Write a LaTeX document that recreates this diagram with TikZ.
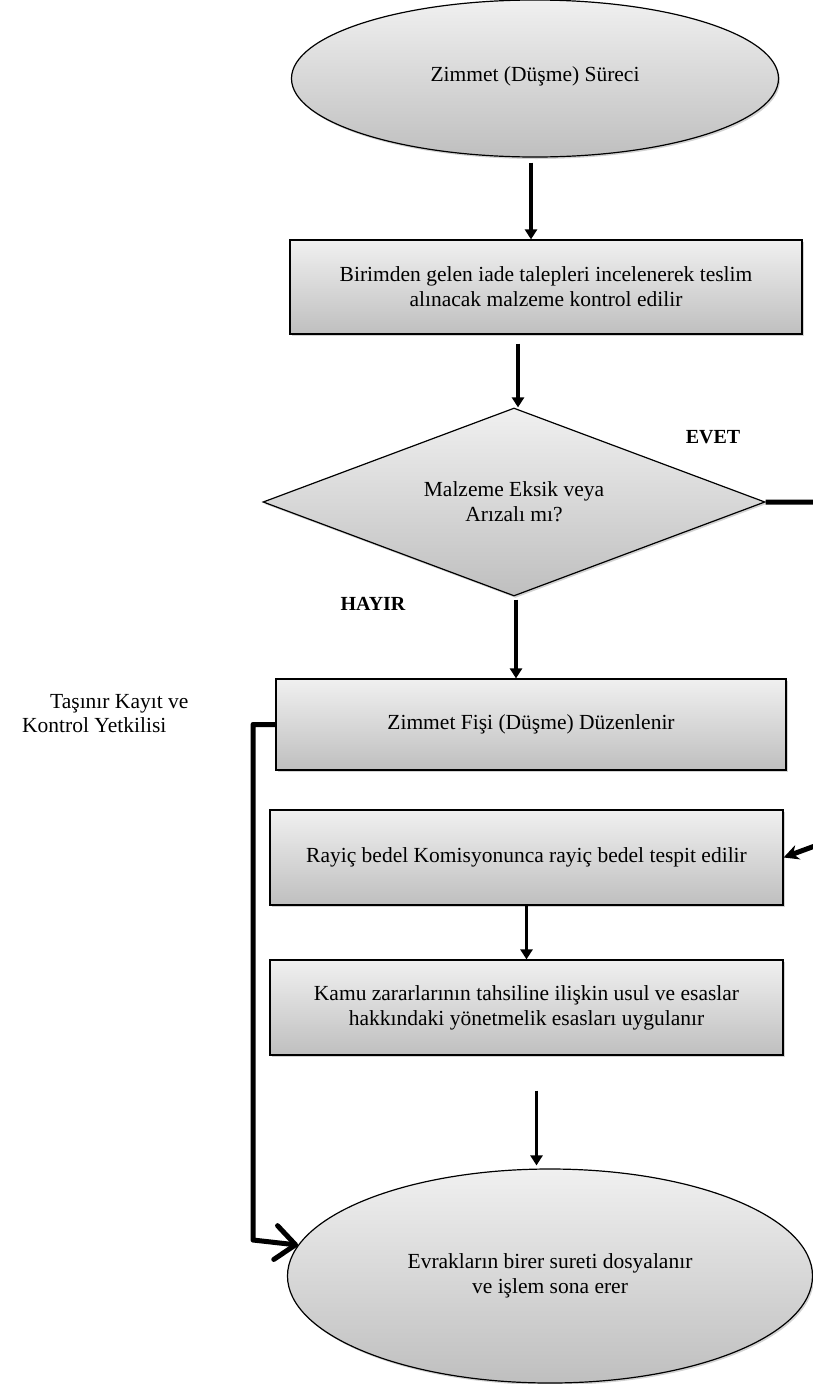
\documentclass[tikz,border=0pt]{standalone}
\usepackage{fontspec}
\setmainfont{Liberation Serif}
\usetikzlibrary{shapes.geometric,arrows.meta,shadows,calc}
\definecolor{fillTop}{HTML}{F0F0F0}
\definecolor{fillBot}{HTML}{BFBFBF}
\begin{document}
\begin{tikzpicture}[x=1pt,y=-1pt,
  every node/.style={font=\fontsize{21.5}{25}\selectfont},
  base/.style={draw=black, line width=1.2pt, top color=fillTop, bottom color=fillBot,
    drop shadow={shadow xshift=1.5pt, shadow yshift=-2pt, opacity=0.35},
    align=center, inner sep=0pt},
  box/.style={base, rectangle},
  oval/.style={base, ellipse},
  dia/.style={base, diamond, aspect=2.68},
  arr/.style={-{Triangle[length=10pt,width=12pt]}, line width=3.2pt},
  heavy/.style={line width=5pt},
  lbl/.style={font=\bfseries\fontsize{20}{24}\selectfont},
  side/.style={anchor=base west, inner sep=0pt}
]
\useasboundingbox (0,0) rectangle (813,1384);
\clip (0,0) rectangle (813,1384);

\node[oval, minimum width=487pt, minimum height=157pt] (start) at (535,78.5)
  {\raisebox{8pt}{Zimmet (Düşme) Süreci}};
\node[box, minimum width=512pt, minimum height=94pt] (r1) at (546,287)
  {Birimden gelen iade talepleri incelenerek teslim\\alınacak malzeme kontrol edilir};
\node[dia, minimum width=502pt, minimum height=188pt] (q) at (514,502)
  {Malzeme Eksik veya\\Arızalı mı?};
\node[lbl] (evet) at (713,437) {EVET};
\node[lbl] (hayir) at (373,604) {HAYIR};
\node[box, minimum width=510pt, minimum height=91pt] (r2) at (531,724.5)
  {Zimmet Fişi (Düşme) Düzenlenir};
\node[side] (role1) at (50,708) {Taşınır Kayıt ve};
\node[side] (role2) at (22,732) {Kontrol Yetkilisi};
\node[box, minimum width=513pt, minimum height=95pt] (r3) at (526.5,857.5)
  {Rayiç bedel Komisyonunca rayiç bedel tespit edilir};
\node[box, minimum width=513pt, minimum height=95pt] (r4) at (526.5,1007.5)
  {Kamu zararlarının tahsiline ilişkin usul ve esaslar\\hakkındaki yönetmelik esasları uygulanır};
\node[oval, minimum width=525pt, minimum height=214pt] (stop) at (550,1276)
  {Evrakların birer sureti dosyalanır\\ve işlem sona erer};

\draw[arr, shorten <=5pt] ([xshift=-4pt]start.south) -- ([xshift=-4pt]start.south |- r1.north);
\draw[arr, shorten <=9pt] ([xshift=4pt]q.north |- r1.south) -- ([xshift=4pt]q.north);
\draw[arr, shorten <=3pt] ([xshift=2pt]q.south) -- ([xshift=2pt]q.south |- r2.north);
\draw[arr] (r3.south) -- (r4.north);
\draw[arr, shorten <=35pt, shorten >=3pt] ([xshift=10pt]r4.south) -- ([xshift=10pt]r4.south |- stop.north);

\coordinate (rx) at (850,833);
\draw[heavy, -{Stealth[length=15pt,width=15pt]}] (q.east) -- (q.east -| rx) -- (rx) -- (r3.east);

\coordinate (lc) at (253,1240);
\draw[heavy, line join=round, -{Straight Barb[length=20pt,width=34pt,round]}] (r2.west) -| (lc) -- (stop.173);
\end{tikzpicture}
\end{document}
